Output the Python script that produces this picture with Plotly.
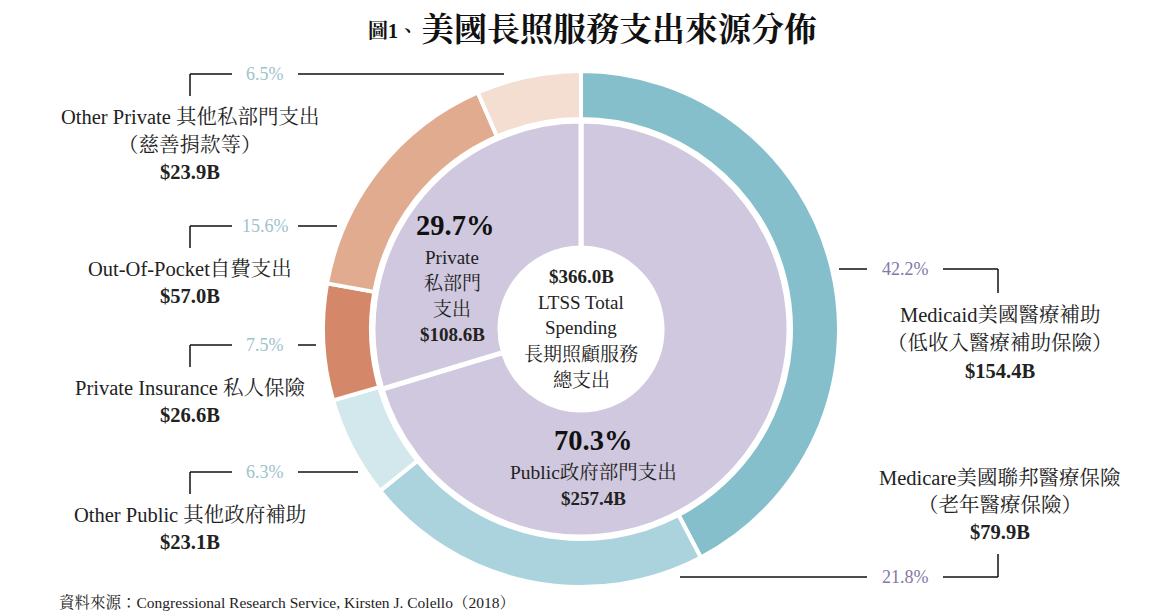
import plotly.graph_objects as go

W, H = 1161, 616
OFF = 8  # page body margin compensation

# ---- data ----
inner_labels = ["Public政府部門支出", "Private私部門支出"]
inner_values = [257.4, 108.6]
inner_pct = ["70.3%", "29.7%"]

outer_labels = ["Medicaid", "Medicare", "Other Public", "Private Insurance", "Out-Of-Pocket", "Other Private"]
outer_values = [154.4, 79.9, 23.1, 26.6, 57.0, 23.9]
outer_pct = ["42.2%", "21.8%", "6.3%", "7.5%", "15.6%", "6.5%"]
outer_amount = ["$154.4B", "$79.9B", "$23.1B", "$26.6B", "$57.0B", "$23.9B"]
total_amount = "$366.0B"

outer_colors = ["#86bfcc", "#abd3dd", "#d3e8ec", "#d5876a", "#e1ab8f", "#f3ded1"]
inner_color = "#d0c8de"

SERIF = "Liberation Serif, Noto Serif CJK TC, Noto Sans CJK TC, serif"

cx, cy = 581, 329
R_out, R_in = 258, 208
r_mid_hole = 210
r_center = 81


def px(x):
    return (x - OFF) / W


def py(y):
    return 1 - (y - OFF) / H


def dom(r):
    return dict(x=[px(cx - r), px(cx + r)], y=[py(cy + r), py(cy - r)])


fig = go.Figure()
fig.add_trace(go.Pie(
    labels=outer_labels, values=outer_values, sort=False, direction="clockwise",
    rotation=0, hole=r_mid_hole / R_out, domain=dom(R_out),
    marker=dict(colors=outer_colors, line=dict(color="white", width=4)),
    textinfo="none", showlegend=False, hoverinfo="label+value+percent",
))
fig.add_trace(go.Pie(
    labels=inner_labels, values=inner_values, sort=False, direction="clockwise",
    rotation=0, hole=r_center / R_in, domain=dom(R_in),
    marker=dict(colors=[inner_color, inner_color], line=dict(color="white", width=5)),
    textinfo="none", showlegend=False, hoverinfo="label+value+percent",
))

ann = []


def T(x, y, text, size=19, color="#222222", bold=False, xanchor="center"):
    if bold:
        text = "<b>" + text + "</b>"
    ann.append(dict(x=px(x), y=py(y), xref="paper", yref="paper", text=text,
                    showarrow=False, xanchor=xanchor, yanchor="middle",
                    font=dict(family=SERIF, size=size, color=color)))


shapes = []


def L(x0, y0, x1, y1):
    shapes.append(dict(type="line", xref="paper", yref="paper",
                       x0=px(x0), y0=py(y0), x1=px(x1), y1=py(y1),
                       line=dict(color="#111111", width=1.5)))


SIDE = 20.5

# title
T(393, 31, "圖1、", size=20, bold=True, color="#111111")
T(619, 30, "美國長照服務支出來源分佈", size=33, bold=True, color="#111111")

LEFT_PCT = "#9cc3cc"
RIGHT_PCT = "#8179a9"

# left side labels
left_items = [
    (74, 5, ["Other Private 其他私部門支出", "（慈善捐款等）"], 504),
    (226, 4, ["Out-Of-Pocket自費支出"], 337),
    (345, 3, ["Private Insurance 私人保險"], 316),
    (472, 2, ["Other Public 其他政府補助"], 358),
]
for yy, i, lines, xend in left_items:
    T(265, yy, outer_pct[i], size=18, color=LEFT_PCT)
    L(190, yy, 232, yy)
    L(190, yy, 190, yy + 22)
    L(298, yy, xend, yy)
    y = yy + 43
    for ln in lines:
        T(190, y, ln, size=SIDE)
        y += 28
    T(190, y - 1, outer_amount[i], size=SIDE, bold=True)

# right side
T(905, 269, outer_pct[0], size=18, color=RIGHT_PCT)
L(839, 269, 867, 269)
L(943, 269, 998, 269)
L(998, 269, 998, 293)
T(1000, 315, "Medicaid美國醫療補助", size=SIDE)
T(1000, 343, "（低收入醫療補助保險）", size=SIDE)
T(1000, 371, outer_amount[0], size=SIDE, bold=True)

T(905, 577, outer_pct[1], size=18, color=RIGHT_PCT)
L(680, 577, 867, 577)
L(943, 577, 998, 577)
L(998, 577, 998, 554)
T(1000, 478, "Medicare美國聯邦醫療保險", size=SIDE)
T(1000, 505, "（老年醫療保險）", size=SIDE)
T(1000, 532, outer_amount[1], size=SIDE, bold=True)

# inner labels
T(455, 225, inner_pct[1], size=28.5, bold=True, color="#111111")
T(452, 257, "Private", size=19)
T(452, 283, "私部門", size=19)
T(452, 309, "支出", size=19)
T(452, 334, "$108.6B", size=19, bold=True)

T(593, 440, inner_pct[0], size=28.5, bold=True, color="#111111")
T(593, 472, inner_labels[0], size=19.5)
T(593, 498, "$257.4B", size=19, bold=True)

# center
T(581, 276, total_amount, size=19, bold=True)
T(581, 302, "LTSS Total", size=19)
T(581, 328, "Spending", size=19)
T(581, 354, "長期照顧服務", size=19)
T(581, 380, "總支出", size=19)

# source
T(57, 602, "資料來源：Congressional Research Service, Kirsten J. Colello（2018）",
  size=15.5, xanchor="left", color="#222222")

fig.update_layout(
    width=W, height=H, margin=dict(l=0, r=0, t=0, b=0),
    paper_bgcolor="white", plot_bgcolor="white",
    annotations=ann, shapes=shapes,
)
fig.write_html("out.html")
